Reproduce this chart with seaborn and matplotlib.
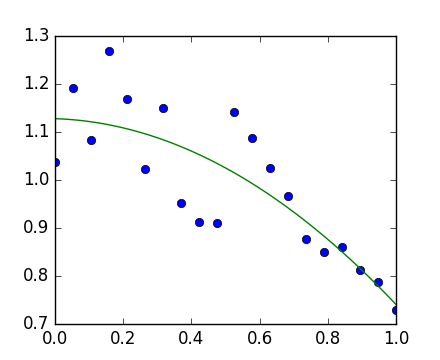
import numpy as np
import pandas as pd
import matplotlib
matplotlib.use("Agg")
import matplotlib.pyplot as plt
import seaborn as sns

x_vals = [0.0, 1/19, 2/19, 3/19, 4/19, 5/19, 6/19, 7/19, 8/19, 9/19,
          10/19, 11/19, 12/19, 13/19, 14/19, 15/19, 16/19, 17/19, 18/19, 1.0]
y_vals = [1.037, 1.192, 1.083, 1.269, 1.169, 1.023, 1.150, 0.952, 0.912, 0.910,
          1.142, 1.087, 1.025, 0.967, 0.877, 0.850, 0.860, 0.812, 0.787, 0.729]

plt.style.use("classic")
fig = plt.figure(figsize=(4.4, 3.6), dpi=100)
ax = fig.add_axes([0.125, 0.1, 0.775, 0.8])

df = pd.DataFrame({"x": x_vals, "y": y_vals})
sns.regplot(data=df, x="x", y="y", order=2, ci=None, ax=ax,
            scatter_kws=dict(color="b", s=36, edgecolor="k", linewidths=0.5, alpha=1),
            line_kws=dict(color="g", lw=1))
ax.set_xlim(0, 1)
ax.set_ylim(0.7, 1.3)
ax.set_xlabel("")
ax.set_ylabel("")
fig.savefig("out.png", dpi=100)
